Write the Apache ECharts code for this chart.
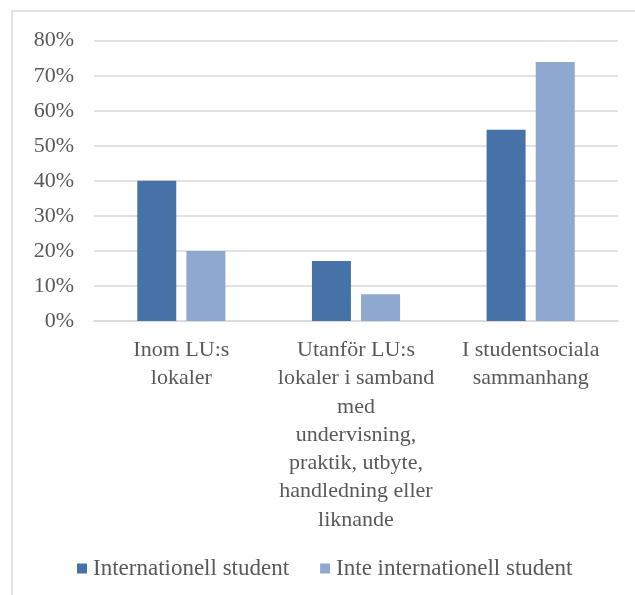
<!DOCTYPE html>
<html>
<head>
<meta charset="utf-8">
<script src="https://cdn.jsdelivr.net/npm/echarts@6/dist/echarts.min.js"></script>
<style>
html,body{margin:0;padding:0;background:#fff;}
#chart{width:635px;height:595px;}
</style>
</head>
<body>
<div id="chart"></div>
<script>
var categories = [
  "Inom LU:s\nlokaler",
  "Utanför LU:s\nlokaler i samband\nmed\nundervisning,\npraktik, utbyte,\nhandledning eller\nliknande",
  "I studentsociala\nsammanhang"
];
var seriesNames = ["Internationell student", "Inte internationell student"];
var internationell = [40, 17.1, 54.6];
var inteInternationell = [20, 7.6, 73.9];
var yTicks = [0, 10, 20, 30, 40, 50, 60, 70, 80];

var textColor = '#595959';
var font = 'Liberation Serif';
var chart = echarts.init(document.getElementById('chart'), null, {renderer: 'canvas'});
chart.setOption({
  animation: false,
  backgroundColor: '#ffffff',
  graphic: [{
    type: 'rect',
    shape: {x: 12, y: 11, width: 640, height: 620},
    style: {fill: 'none', stroke: '#D9D9D9', lineWidth: 1.5},
    silent: true
  }],
  grid: {left: 94, right: 17, top: 40.7, bottom: 274, containLabel: false},
  legend: {
    data: seriesNames,
    left: 77,
    top: 557,
    padding: 0,
    itemWidth: 10,
    itemHeight: 10,
    itemGap: 31,
    icon: 'rect',
    textStyle: {color: textColor, fontFamily: font, fontSize: 23, padding: [0,0,0,1]}
  },
  xAxis: {
    type: 'category',
    data: categories,
    axisLine: {show: true, lineStyle: {color: '#D9D9D9', width: 1.5}},
    axisTick: {show: false},
    axisLabel: {
      color: textColor, fontFamily: font, fontSize: 22, lineHeight: 28.3,
      margin: 15, interval: 0, align: 'center'
    }
  },
  yAxis: {
    type: 'value',
    min: yTicks[0],
    max: yTicks[yTicks.length - 1],
    interval: 10,
    axisLine: {show: false},
    axisTick: {show: false},
    splitLine: {lineStyle: {color: '#D9D9D9', width: 1.5}},
    axisLabel: {
      color: textColor, fontFamily: font, fontSize: 22, margin: 20,
      formatter: function (v) { return v + '%'; }
    }
  },
  series: [
    {
      name: seriesNames[0], type: 'bar', data: internationell,
      barWidth: 39, barGap: '26%',
      itemStyle: {color: '#4672A8'}
    },
    {
      name: seriesNames[1], type: 'bar', data: inteInternationell,
      barWidth: 39,
      itemStyle: {color: '#8FA8CF'}
    }
  ]
});
</script>
</body>
</html>
